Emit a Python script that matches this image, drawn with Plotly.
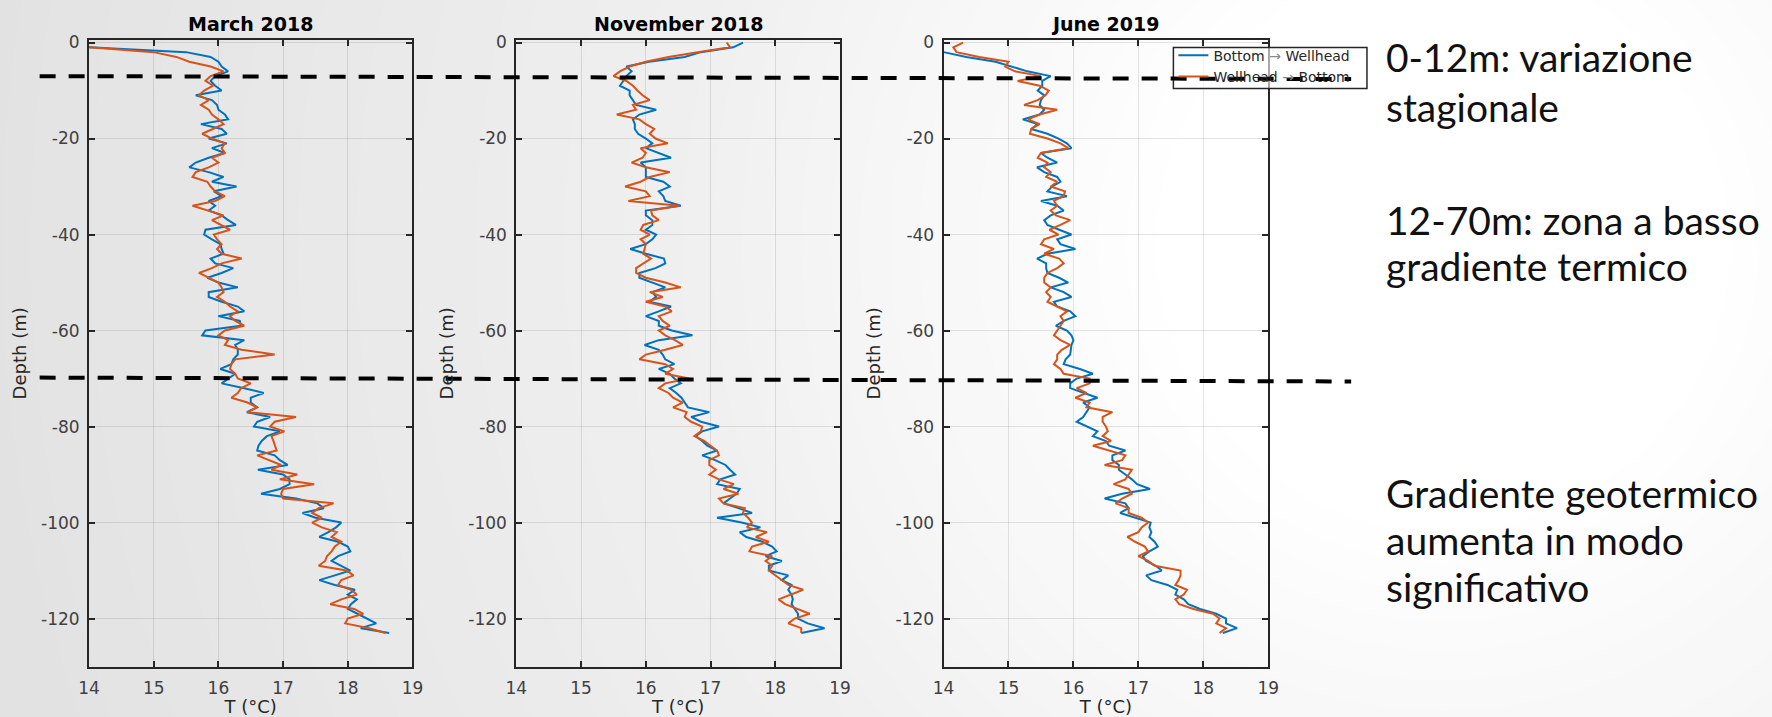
import plotly.graph_objects as go

W, H = 1772, 717

# ---------------------------------------------------------------------------
# Temperature logs (°C) sampled every metre of depth
# ---------------------------------------------------------------------------
DEPTH_M = [
    0, -1, -2, -3, -4, -5, -6, -7, -8, -9,
    -10, -11, -12, -13, -14, -15, -16, -17, -18, -19,
    -20, -21, -22, -23, -24, -25, -26, -27, -28, -29,
    -30, -31, -32, -33, -34, -35, -36, -37, -38, -39,
    -40, -41, -42, -43, -44, -45, -46, -47, -48, -49,
    -50, -51, -52, -53, -54, -55, -56, -57, -58, -59,
    -60, -61, -62, -63, -64, -65, -66, -67, -68, -69,
    -70, -71, -72, -73, -74, -75, -76, -77, -78, -79,
    -80, -81, -82, -83, -84, -85, -86, -87, -88, -89,
    -90, -91, -92, -93, -94, -95, -96, -97, -98, -99,
    -100, -101, -102, -103, -104, -105, -106, -107, -108, -109,
    -110, -111, -112, -113, -114, -115, -116, -117, -118, -119,
    -120, -121, -122, -123,
]

MAR_UP = [
    None, 14.0, 15.5, 15.88, 16.0, 16.05, 16.15, 15.95, 15.88, 15.95,
    16.05, 15.65, 15.9, 15.98, 16.0, 16.1, 16.15, 15.73, 16.05, 16.13,
    15.85, 16.13, 15.9, 16.1, 15.85, 15.65, 15.55, 15.85, 16.08, 15.9,
    16.28, 15.93, 16.05, 15.85, 15.95, 15.85, 16.05, 16.15, 16.27, 15.8,
    15.78, 15.9, 16.03, 16.05, 16.08, 15.88, 15.95, 16.23, 16.05, 15.83,
    16.0, 16.3, 15.85, 15.85, 16.05, 16.3, 16.4, 16.0, 16.33, 16.35,
    15.8, 15.75, 16.4, 16.26, 16.3, 16.3, 16.23, 16.2, 16.03, 16.26,
    16.15, 16.05, 16.4, 16.7, 16.5, 16.5, 16.6, 16.44, 16.8, 16.6,
    16.55, 16.95, 16.75, 16.67, 16.62, 16.6, 16.87, 16.95, 17.07, 16.61,
    17.0, 17.1, 17.1, 16.95, 16.66, 17.2, 17.53, 17.63, 17.3, 17.5,
    17.9, 17.82, 17.7, 17.56, 17.85, 18.0, 18.04, 17.85, 17.75, 17.9,
    18.04, 17.8, 17.56, 17.8, 18.11, 18.0, 18.14, 18.05, 18.0, 18.15,
    18.3, 18.44, 18.2, 18.64,
]
MAR_DOWN = [
    None, 14.0, 15.0, 15.35, 15.55, 15.88, 16.08, 15.88, 15.8, 15.92,
    15.78, 15.7, 15.85, 15.73, 15.85, 15.9, 16.0, 16.08, 15.9, 15.75,
    15.9, 16.1, 16.05, 16.1, 15.9, 16.0, 15.85, 15.65, 15.6, 15.83,
    15.88, 15.95, 16.1, 15.95, 15.6, 15.85, 16.08, 15.9, 16.05, 16.18,
    15.93, 15.98, 16.05, 15.98, 16.05, 16.36, 16.05, 15.9, 15.7, 15.85,
    16.0, 16.05, 16.08, 15.98, 16.1, 16.18, 16.3, 16.18, 16.26, 16.4,
    16.1, 16.0, 16.15, 16.1, 16.36, 16.87, 16.26, 16.2, 16.18, 16.26,
    16.3, 16.5, 16.35, 16.3, 16.2, 16.45, 16.6, 16.45, 17.2, 16.87,
    16.8, 17.02, 16.82, 16.85, 16.87, 16.9, 16.6, 16.8, 16.97, 16.82,
    17.22, 16.95, 17.48, 17.0, 16.97, 17.0, 17.78, 17.55, 17.45, 17.6,
    17.45, 17.6, 17.83, 17.75, 17.9, 17.8, 17.75, 17.68, 17.65, 17.55,
    17.98, 18.09, 17.9, 17.85, 18.05, 18.14, 17.9, 17.73, 18.1, 18.24,
    18.0, 17.96, 18.33, 18.58,
]

NOV_UP = [
    17.5, 17.35, 16.85, 16.6, 16.05, 15.7, 15.78, 15.7, 15.65, 15.6,
    15.75, 15.75, 15.8, 15.85, 16.16, 15.9, 15.8, 15.83, 15.83, 15.88,
    16.0, 16.1, 16.0, 16.2, 16.39, 15.92, 16.0, 16.0, 16.0, 16.27,
    16.37, 16.2, 16.27, 16.3, 16.54, 16.0, 16.0, 16.1, 16.1, 16.0,
    16.16, 16.1, 16.0, 15.76, 16.0, 16.28, 16.3, 16.15, 15.9, 15.9,
    16.1, 16.3, 16.1, 16.16, 16.05, 16.39, 16.2, 16.0, 16.2, 16.2,
    16.4, 16.72, 16.2, 15.98, 16.2, 16.26, 16.3, 16.44, 16.2, 16.37,
    16.44, 16.54, 16.37, 16.47, 16.55, 16.6, 16.65, 16.98, 16.7, 16.85,
    17.13, 16.87, 16.77, 16.87, 16.95, 17.1, 16.87, 17.07, 17.23, 17.3,
    17.38, 17.15, 17.1, 17.45, 17.4, 17.3, 17.2, 17.43, 17.64, 17.1,
    17.48, 17.77, 17.45, 17.55, 17.8, 17.95, 18.02, 17.85, 18.1, 17.9,
    17.9, 18.2, 18.1, 18.25, 18.2, 18.25, 18.27, 18.25, 18.3, 18.35,
    18.35, 18.5, 18.76, 18.4,
]
NOV_DOWN = [
    17.25, 17.3, 16.8, 16.35, 16.0, 15.75, 15.6, 15.5, 15.7, 15.8,
    15.87, 15.95, 16.06, 15.8, 15.85, 15.55, 15.9, 16.0, 16.13, 16.06,
    16.15, 16.34, 15.92, 16.0, 15.95, 15.78, 16.0, 16.37, 16.06, 15.92,
    15.68, 16.0, 16.06, 15.73, 16.52, 16.08, 16.1, 16.2, 15.96, 15.92,
    16.06, 15.92, 16.0, 15.98, 15.96, 16.08, 15.96, 15.85, 15.85, 16.0,
    16.3, 16.54, 16.06, 16.26, 16.0, 16.3, 16.4, 16.2, 16.26, 16.37,
    16.2, 16.3, 16.45, 16.57, 16.3, 16.0, 15.9, 16.3, 16.42, 16.3,
    16.67, 16.3, 16.2, 16.35, 16.42, 16.57, 16.42, 16.63, 16.6, 16.7,
    16.87, 16.85, 16.75, 16.9, 17.0, 17.1, 17.13, 16.98, 16.98, 17.08,
    16.98, 17.13, 17.36, 17.2, 17.43, 17.13, 17.2, 17.53, 17.5, 17.58,
    17.64, 17.56, 17.87, 17.7, 17.9, 17.64, 17.6, 17.95, 17.85, 17.95,
    17.9, 18.0, 18.1, 18.2, 18.43, 18.25, 18.05, 18.15, 18.35, 18.53,
    18.3, 18.2, 18.4, 18.4,
]

JUN_UP = [
    None, None, 14.0, 14.35, 14.8, 15.04, 15.29, 15.65, 15.52, 15.52,
    15.45, 15.55, 15.5, 15.48, 15.55, 15.48, 15.22, 15.45, 15.35, 15.6,
    15.77, 15.9, 15.97, 15.5, 15.6, 15.75, 15.44, 15.55, 15.75, 15.8,
    15.67, 15.6, 15.9, 15.5, 15.75, 15.85, 15.65, 15.55, 15.6, 15.78,
    15.97, 15.75, 15.8, 16.03, 15.6, 15.44, 15.58, 15.58, 15.6, 15.78,
    15.92, 15.65, 15.85, 15.97, 15.7, 15.75, 15.95, 16.03, 15.85, 15.73,
    15.9, 15.97, 16.0, 15.97, 15.96, 15.95, 15.88, 15.85, 16.1, 16.3,
    16.05, 15.95, 15.95, 16.15, 16.37, 16.15, 16.25, 16.2, 16.15, 16.05,
    16.2, 16.37, 16.3, 16.5, 16.55, 16.8, 16.6, 16.6, 16.7, 16.7,
    16.8, 16.9, 16.98, 17.18, 16.75, 16.48, 16.8, 16.85, 16.72, 16.95,
    17.19, 17.17, 17.2, 17.17, 17.25, 17.3, 17.17, 17.07, 17.12, 17.27,
    17.36, 17.12, 17.2, 17.45, 17.6, 17.57, 17.7, 17.77, 17.95, 18.2,
    18.35, 18.35, 18.52, 18.3,
]
JUN_DOWN = [
    14.3, 14.15, 14.2, 14.55, 15.0, 14.95, 15.1, 15.5, 15.14, 15.48,
    15.62, 15.57, 15.45, 15.24, 15.75, 15.48, 15.3, 15.48, 15.35, 15.33,
    15.6, 15.8, 15.92, 15.5, 15.45, 15.6, 15.55, 15.65, 15.58, 15.75,
    15.65, 15.87, 15.85, 15.7, 15.75, 15.65, 15.73, 15.95, 15.8, 15.63,
    15.77, 15.55, 15.5, 15.7, 15.55, 15.78, 15.85, 15.75, 15.6, 15.55,
    15.55, 15.65, 15.58, 15.65, 15.6, 15.75, 15.9, 15.8, 15.85, 15.8,
    15.75, 15.7, 15.8, 15.95, 15.82, 15.75, 15.75, 15.7, 15.8, 15.85,
    16.25, 16.25, 16.05, 16.2, 16.03, 16.25, 16.2, 16.6, 16.45, 16.45,
    16.5, 16.53, 16.45, 16.58, 16.3, 16.55, 16.8, 16.75, 16.48, 16.9,
    16.85, 16.8, 16.62, 16.85, 16.9, 16.75, 16.65, 16.85, 16.85, 17.05,
    17.15, 17.05, 17.0, 16.83, 16.95, 17.1, 17.15, 17.0, 17.15, 17.25,
    17.65, 17.65, 17.62, 17.57, 17.75, 17.7, 17.57, 17.63, 17.85, 18.15,
    18.25, 18.2, 18.35, 18.25,
]

PANEL_TITLES = ["March 2018", "November 2018", "June 2019"]
SERIES_NAMES = [
    "Bottom <span style='color:#8a8a8a'>\u2192</span> Wellhead",
    "Wellhead <span style='color:#8a8a8a'>\u2192</span> Bottom",
]
T_TICKS = [14, 15, 16, 17, 18, 19]
DEPTH_TICKS = [0, -20, -40, -60, -80, -100, -120]
DEPTH_TICK_LABELS = ["0", "-20", "-40", "-60", "-80", "-100", "-120"]

# Zone boundaries drawn across all panels (depth at left end, depth at right end)
ZONE_LINES = [(-7.0, -7.6), (-69.8, -70.6)]

# Commentary lines on the right: (text, vertical centre in px)
NOTES = [
    ("0-12m: variazione", 50),
    ("stagionale", 100),
    ("12-70m: zona a basso", 214),
    ("gradiente termico", 261),
    ("Gradiente geotermico", 490),
    ("aumenta in modo", 538),
    ("significativo", 586),
]

BLUE = "#0072BD"
ORANGE = "#D95319"
AX = "#262626"

# ---------------------------------------------------------------------------
fig = go.Figure()

panels = [(MAR_UP, MAR_DOWN), (NOV_UP, NOV_DOWN), (JUN_UP, JUN_DOWN)]
x_dom_px = [(79, 406.5), (511.7, 839.5), (944.3, 1273)]
y_dom = [1 - 666 / H, 1 - 32.5 / H]

for i, (up, down) in enumerate(panels):
    sfx = "" if i == 0 else str(i + 1)
    for name, vals, color in ((SERIES_NAMES[0], up, BLUE), (SERIES_NAMES[1], down, ORANGE)):
        fig.add_trace(go.Scatter(
            x=vals, y=DEPTH_M, mode="lines", name=name,
            line=dict(color=color, width=2),
            xaxis="x" + sfx, yaxis="y" + sfx,
            showlegend=(i == 2), connectgaps=False, hoverinfo="x+y",
        ))

common = dict(
    showline=True, linecolor=AX, linewidth=2, mirror="ticks",
    ticks="inside", ticklen=6, tickwidth=1.5, tickcolor=AX,
    showgrid=True, gridcolor="rgba(38,38,38,0.12)", gridwidth=1,
    zeroline=False,
    tickfont=dict(family="DejaVu Sans", size=17, color="#404040"),
)

layout_axes = {}
for i, (x0, x1) in enumerate(x_dom_px):
    sfx = "" if i == 0 else str(i + 1)
    layout_axes["xaxis" + sfx] = dict(
        common, domain=[x0 / W, x1 / W], anchor="y" + sfx,
        range=[14, 19], tickvals=T_TICKS, ticklabelstandoff=5,
        title=dict(text="T (\u00b0C)", standoff=3,
                   font=dict(family="DejaVu Sans", size=18, color=AX)),
    )
    layout_axes["yaxis" + sfx] = dict(
        common, domain=y_dom, anchor="x" + sfx,
        range=[-130, 0.5], tickvals=DEPTH_TICKS, ticktext=DEPTH_TICK_LABELS,
        ticklabelstandoff=4,
        title=dict(text="Depth (m)", standoff=10,
                   font=dict(family="DejaVu Sans", size=18, color=AX)),
    )

fig.update_layout(**layout_axes)

# Slide backdrop: soft radial light spot toward the upper right
def shade(r):
    if r <= 280:
        return 255
    if r <= 750:
        return 255 - 15 * (r - 280) / 470
    return max(226, 240 - 14 * (r - 750) / 750)

cx, cy = 1450, 240
shapes = []
radii = list(range(1700, 260, -30))
for r in radii:
    g = int(round(shade(r - 15)))
    shapes.append(dict(
        type="circle", xref="paper", yref="paper", layer="below",
        x0=(cx - r) / W, x1=(cx + r) / W,
        y0=1 - (cy + r) / H, y1=1 - (cy - r) / H,
        fillcolor=f"rgb({g},{g},{g})", line=dict(width=0),
    ))

# Legend frame
shapes.append(dict(
    type="rect", xref="paper", yref="paper", layer="above",
    x0=1177 / W, x1=1373 / W, y0=1 - 81.5 / H, y1=1 - 40 / H,
    fillcolor="rgba(255,255,255,0.6)", line=dict(color=AX, width=1.5),
))

for y_left, y_right in ZONE_LINES:
    shapes.append(dict(
        type="line", xref="paper", yref="y", layer="above",
        x0=29 / W, x1=1357 / W, y0=y_left, y1=y_right,
        line=dict(color="black", width=4, dash="16px,13px"),
    ))

annotations = []
for i, title in enumerate(PANEL_TITLES):
    x0, x1 = x_dom_px[i]
    annotations.append(dict(
        text=title, xref="paper", yref="paper",
        x=(x0 + x1) / 2 / W, y=1 - 16 / H, xanchor="center", yanchor="middle",
        showarrow=False,
        font=dict(family="DejaVu Sans", size=19, color="#000000", weight="bold"),
    ))

for text, yc in NOTES:
    annotations.append(dict(
        text=text, xref="paper", yref="paper",
        x=1390 / W, y=1 - yc / H, xanchor="left", yanchor="middle",
        showarrow=False,
        font=dict(family="Lato", size=39, color="#111111"),
    ))

fig.update_layout(
    width=W, height=H, autosize=False,
    margin=dict(l=0, r=0, t=0, b=0),
    paper_bgcolor="rgb(226,226,226)",
    plot_bgcolor="rgba(0,0,0,0)",
    shapes=shapes,
    annotations=annotations,
    showlegend=True,
    legend=dict(
        x=1177 / W, y=1 - 32 / H, xanchor="left", yanchor="top",
        bgcolor="rgba(0,0,0,0)", borderwidth=0,
        font=dict(family="DejaVu Sans", size=14, color=AX),
        tracegroupgap=0, itemwidth=30,
    ),
)

fig.write_html("out.html")
